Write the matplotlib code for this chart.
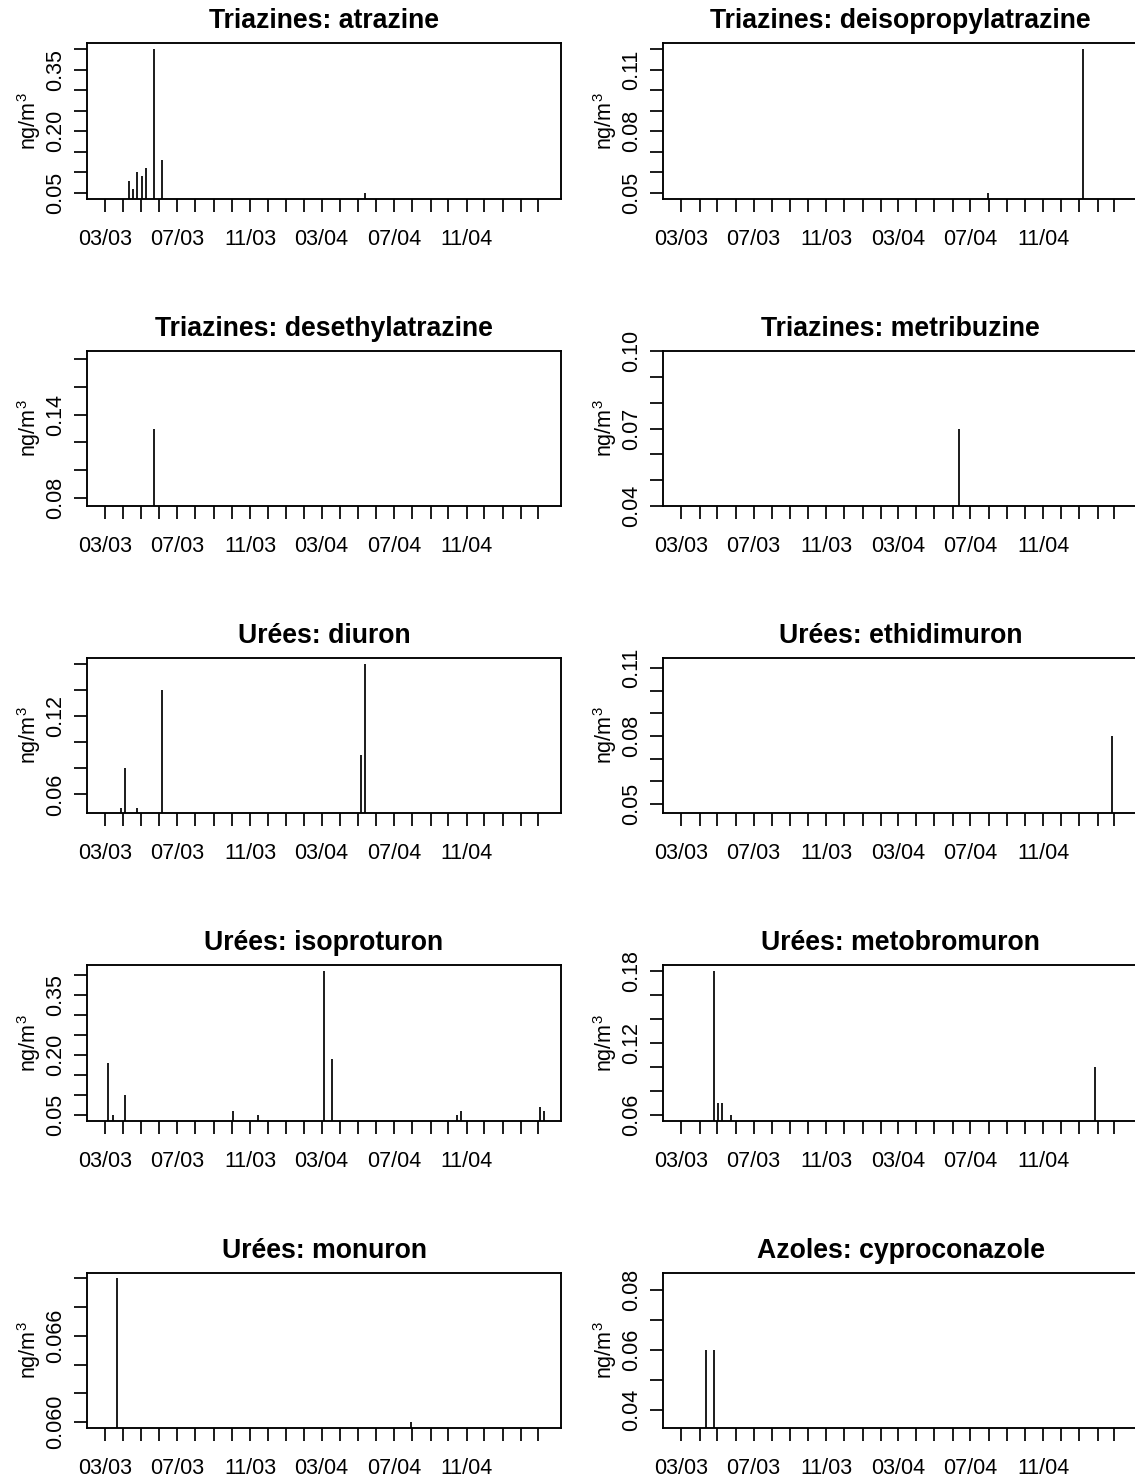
import matplotlib
matplotlib.use('Agg')
import matplotlib.pyplot as plt
import matplotlib.dates as mdates
from datetime import datetime

plt.rcParams['font.family'] = ['Liberation Sans', 'DejaVu Sans']
plt.rcParams['mathtext.fontset'] = 'custom'
plt.rcParams['mathtext.rm'] = 'Liberation Sans'
plt.rcParams['mathtext.it'] = 'Liberation Sans:italic'
plt.rcParams['mathtext.bf'] = 'Liberation Sans:bold'
plt.rcParams['mathtext.default'] = 'regular'

# ---------------- data ----------------
titles = ["Triazines: atrazine", "Triazines: deisopropylatrazine",
          "Triazines: desethylatrazine", "Triazines: metribuzine",
          "Urées: diuron", "Urées: ethidimuron",
          "Urées: isoproturon", "Urées: metobromuron",
          "Urées: monuron", "Azoles: cyproconazole"]

atrazine_dates = ["2003-04-11", "2003-04-18", "2003-04-25", "2003-05-02",
                  "2003-05-09", "2003-05-23", "2003-06-06", "2004-05-14"]
atrazine_vals = [0.08, 0.06, 0.10, 0.09, 0.11, 0.40, 0.13, 0.05]

deisopropylatrazine_dates = ["2004-07-30", "2005-01-07"]
deisopropylatrazine_vals = [0.05, 0.12]

desethylatrazine_dates = ["2003-05-23"]
desethylatrazine_vals = [0.13]

metribuzine_dates = ["2004-06-11"]
metribuzine_vals = [0.07]

diuron_dates = ["2003-03-28", "2003-04-04", "2003-04-25", "2003-06-06",
                "2004-05-07", "2004-05-14"]
diuron_vals = [0.05, 0.08, 0.05, 0.14, 0.09, 0.16]

ethidimuron_dates = ["2005-02-25"]
ethidimuron_vals = [0.08]

isoproturon_dates = ["2003-03-07", "2003-03-14", "2003-04-04", "2003-10-03",
                     "2003-11-14", "2004-03-05", "2004-03-19", "2004-10-15",
                     "2004-10-22", "2005-03-04", "2005-03-11"]
isoproturon_vals = [0.18, 0.05, 0.10, 0.06, 0.05, 0.41, 0.19, 0.05, 0.06, 0.07, 0.06]

metobromuron_dates = ["2003-04-25", "2003-05-02", "2003-05-09", "2003-05-23",
                      "2005-01-28"]
metobromuron_vals = [0.18, 0.07, 0.07, 0.06, 0.10]

monuron_dates = ["2003-03-21", "2004-07-30"]
monuron_vals = [0.070, 0.060]

cyproconazole_dates = ["2003-04-11", "2003-04-25"]
cyproconazole_vals = [0.06, 0.06]

# y-axis ticks and labels per panel
atrazine_yticks = [0.05, 0.10, 0.15, 0.20, 0.25, 0.30, 0.35, 0.40]
atrazine_ylabels = ["0.05", "", "", "0.20", "", "", "0.35", ""]
deisopropylatrazine_yticks = [0.05, 0.06, 0.07, 0.08, 0.09, 0.10, 0.11, 0.12]
deisopropylatrazine_ylabels = ["0.05", "", "", "0.08", "", "", "0.11", ""]
desethylatrazine_yticks = [0.08, 0.10, 0.12, 0.14, 0.16, 0.18]
desethylatrazine_ylabels = ["0.08", "", "", "0.14", "", ""]
metribuzine_yticks = [0.04, 0.05, 0.06, 0.07, 0.08, 0.09, 0.10]
metribuzine_ylabels = ["0.04", "", "", "0.07", "", "", "0.10"]
diuron_yticks = [0.06, 0.08, 0.10, 0.12, 0.14, 0.16]
diuron_ylabels = ["0.06", "", "", "0.12", "", ""]
ethidimuron_yticks = [0.05, 0.06, 0.07, 0.08, 0.09, 0.10, 0.11]
ethidimuron_ylabels = ["0.05", "", "", "0.08", "", "", "0.11"]
isoproturon_yticks = [0.05, 0.10, 0.15, 0.20, 0.25, 0.30, 0.35, 0.40]
isoproturon_ylabels = ["0.05", "", "", "0.20", "", "", "0.35", ""]
metobromuron_yticks = [0.06, 0.08, 0.10, 0.12, 0.14, 0.16, 0.18]
metobromuron_ylabels = ["0.06", "", "", "0.12", "", "", "0.18"]
monuron_yticks = [0.060, 0.062, 0.064, 0.066, 0.068, 0.070]
monuron_ylabels = ["0.060", "", "", "0.066", "", ""]
cyproconazole_yticks = [0.04, 0.05, 0.06, 0.07, 0.08]
cyproconazole_ylabels = ["0.04", "", "0.06", "", "0.08"]

# x-axis: monthly ticks, labels every 4 months
x_tick_months = ["2003-03-01", "2003-04-01", "2003-05-01", "2003-06-01", "2003-07-01",
                 "2003-08-01", "2003-09-01", "2003-10-01", "2003-11-01", "2003-12-01",
                 "2004-01-01", "2004-02-01", "2004-03-01", "2004-04-01", "2004-05-01",
                 "2004-06-01", "2004-07-01", "2004-08-01", "2004-09-01", "2004-10-01",
                 "2004-11-01", "2004-12-01", "2005-01-01", "2005-02-01", "2005-03-01"]
x_tick_labels = ["03/03", "", "", "", "07/03", "", "", "", "11/03", "", "", "",
                 "03/04", "", "", "", "07/04", "", "", "", "11/04", "", "", "", ""]
sampling_start = "2003-02-28"
sampling_end = "2005-03-11"

panels = [
    (atrazine_dates, atrazine_vals, atrazine_yticks, atrazine_ylabels, (0.036, 0.414)),
    (deisopropylatrazine_dates, deisopropylatrazine_vals, deisopropylatrazine_yticks,
     deisopropylatrazine_ylabels, (0.0472, 0.1228)),
    (desethylatrazine_dates, desethylatrazine_vals, desethylatrazine_yticks,
     desethylatrazine_ylabels, (0.074, 0.1863)),
    (metribuzine_dates, metribuzine_vals, metribuzine_yticks, metribuzine_ylabels,
     (0.040, 0.1003)),
    (diuron_dates, diuron_vals, diuron_yticks, diuron_ylabels, (0.0456, 0.1644)),
    (ethidimuron_dates, ethidimuron_vals, ethidimuron_yticks, ethidimuron_ylabels,
     (0.0457, 0.1146)),
    (isoproturon_dates, isoproturon_vals, isoproturon_yticks, isoproturon_ylabels,
     (0.0356, 0.4244)),
    (metobromuron_dates, metobromuron_vals, metobromuron_yticks, metobromuron_ylabels,
     (0.0552, 0.1848)),
    (monuron_dates, monuron_vals, monuron_yticks, monuron_ylabels, (0.0596, 0.0704)),
    (cyproconazole_dates, cyproconazole_vals, cyproconazole_yticks, cyproconazole_ylabels,
     (0.034, 0.0859)),
]

# ---------------- layout ----------------
W, H = 1135, 1478
DPI = 100
PX = 72.0 / DPI  # points per pixel

fig = plt.figure(figsize=(W / DPI, H / DPI), dpi=DPI)
fig.patch.set_facecolor('white')

col_left_px = [86.7, 663.2]
ax_w_px = 474.6
ax_h_px = 155.3
row_top_px = [43.3 + 307.35 * r for r in range(5)]

def d(s):
    return datetime.strptime(s, "%Y-%m-%d")

t0 = mdates.date2num(d(sampling_start))
t1 = mdates.date2num(d(sampling_end))
span = t1 - t0
xlim = (t0 - 0.04 * span, t1 + 0.04 * span)
xticks = [mdates.date2num(d(s)) for s in x_tick_months]

tick_fs = 15.5
title_fs = 19.2
lw = 1.25

for i, (dates, vals, yt, yl, ylim) in enumerate(panels):
    r, c = divmod(i, 2)
    left = col_left_px[c] / W
    bottom = 1 - (row_top_px[r] + ax_h_px) / H
    ax = fig.add_axes([left, bottom, ax_w_px / W, ax_h_px / H])
    x = [mdates.date2num(d(s)) for s in dates]
    ax.vlines(x, 0, vals, colors='black', linewidth=lw)
    ax.set_xlim(*xlim)
    ax.set_ylim(*ylim)
    ax.set_xticks(xticks)
    ax.set_xticklabels(x_tick_labels)
    ax.set_yticks(yt)
    ax.set_yticklabels(yl)
    for sp in ax.spines.values():
        sp.set_linewidth(1.35)
        sp.set_color('black')
    ax.tick_params(axis='both', direction='out', length=13 * PX, width=lw,
                   colors='black', labelsize=tick_fs)
    ax.tick_params(axis='x', pad=17.0 * PX)
    ax.tick_params(axis='y', pad=8.0 * PX)
    for lab in ax.get_yticklabels():
        lab.set_rotation(90)
        lab.set_va('center')
        lab.set_ha('right')
    ax.annotate(titles[i], xy=(0.5, 1), xycoords='axes fraction',
                xytext=(0, 15), textcoords='offset pixels',
                ha='center', va='baseline', fontsize=title_fs, fontweight='bold')
    ax.annotate('ng/m$^{3}$', xy=(0, 0.5), xycoords='axes fraction',
                xytext=(-44, 0), textcoords='offset pixels',
                ha='right', va='center', rotation=90, fontsize=tick_fs)

fig.savefig('out.png', dpi=DPI, facecolor='white')
